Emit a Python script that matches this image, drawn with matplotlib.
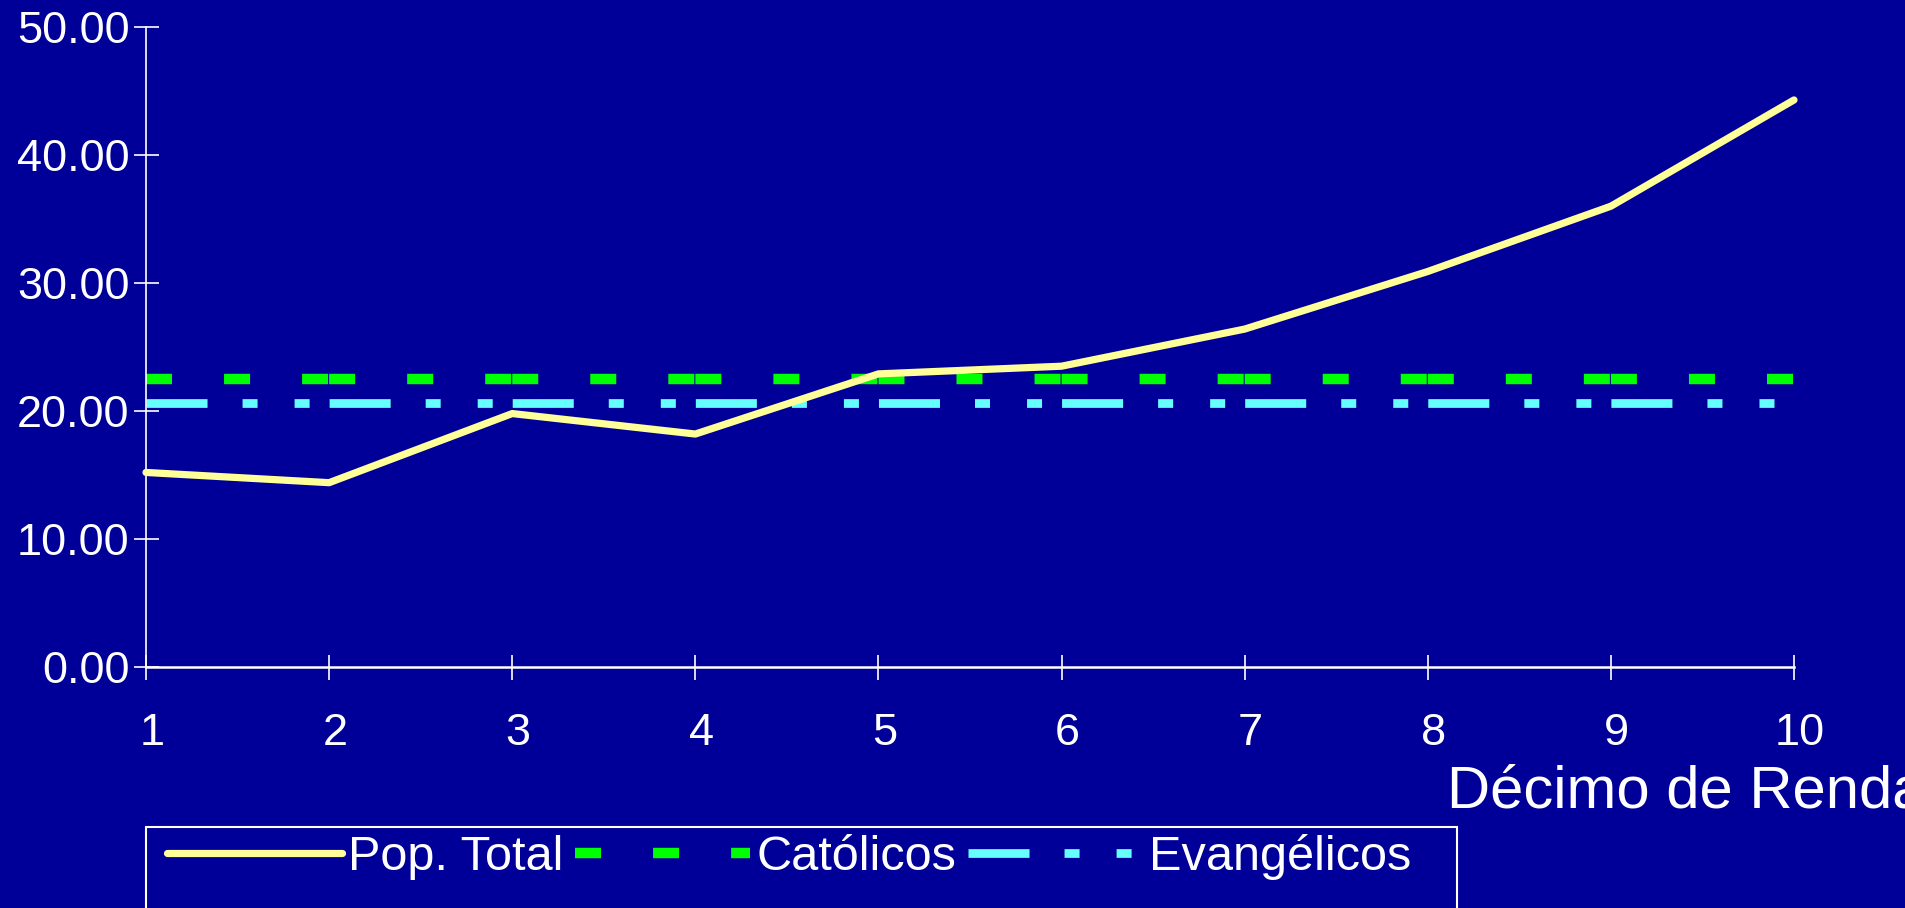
import numpy as np
import matplotlib.pyplot as plt
import matplotlib.transforms as mtransforms

plt.rcParams['font.family'] = ['Liberation Sans', 'DejaVu Sans']
plt.rcParams['lines.scale_dashes'] = False

# data
decis = [1, 2, 3, 4, 5, 6, 7, 8, 9, 10]
pop_total = [15.2, 14.4, 19.8, 18.2, 22.9, 23.5, 26.4, 30.9, 36.0, 44.3]
catolicos = [22.5] * 10
evangelicos = [20.6] * 10
yticks = [0, 10, 20, 30, 40, 50]

bg = '#000099'
W, H = 1906, 908
fig = plt.figure(figsize=(W / 100, H / 100), dpi=100, facecolor=bg)
left, right = 146 / W, 1794 / W
bottom, top = 1 - 667 / H, 1 - 27 / H
ax = fig.add_axes([left, bottom, right - left, top - bottom], facecolor=bg)

# dash pattern repeats once per decile step (px -> pt)
seg_px = (right - left) * W / 9
pt = 72 / 100
def dash(pattern):
    s = seg_px / sum(pattern)
    return [p * s * pt for p in pattern]

ax.plot(decis, pop_total, color='#FFFF99', lw=5.2, solid_capstyle='round',
        solid_joinstyle='round', clip_on=False, label='Pop. Total', zorder=3)
ax.plot(decis, catolicos, color='#00FF00', lw=7.5,
        dashes=dash([26, 52, 26, 52, 26, 1]), clip_on=False, label='Católicos', zorder=2)
ax.plot(decis, evangelicos, color='#66FFFF', lw=6.3,
        dashes=dash([61, 35, 15, 37, 15, 20]), clip_on=False, label='Evangélicos', zorder=2)

ax.set_xlim(1, 10)
ax.set_ylim(0, 50)
ax.set_xticks(decis)
ax.set_yticks(yticks)
ax.set_yticklabels([f'{v:.2f}' for v in yticks])

for s in ['top', 'right']:
    ax.spines[s].set_visible(False)
for s in ['left', 'bottom']:
    ax.spines[s].set_color('white')
ax.spines['left'].set_linewidth(1.2)
ax.spines['bottom'].set_linewidth(1.8)

ax.tick_params(axis='both', direction='inout', length=18, width=1.2,
               colors='white', labelsize=32.5)
ax.tick_params(axis='y', pad=3)
ax.tick_params(axis='x', pad=24)
shift = mtransforms.ScaledTranslation(6 / 100, 0, fig.dpi_scale_trans)
for lab in ax.get_xticklabels():
    lab.set_transform(lab.get_transform() + shift)

fig.text(1447 / W, 1 - 808 / H, 'Décimo de Renda', color='white',
         fontsize=43, ha='left', va='baseline')

# legend box runs past the bottom edge
box = plt.Rectangle((left, -0.05), 1311 / W, 1 - 827 / H + 0.05, transform=fig.transFigure,
                    facecolor='none', edgecolor='white', lw=1.5, clip_on=False)
fig.patches.append(box)

leg = ax.legend(loc='upper left', bbox_to_anchor=(167 / W, 1 - 834 / H),
                bbox_transform=fig.transFigure, ncol=3,
                handlelength=3.6, handletextpad=0.12, columnspacing=0.25,
                borderaxespad=0, borderpad=0, fontsize=35, frameon=False)
for t in leg.get_texts():
    t.set_color('white')

fig.savefig('out.png', dpi=100, facecolor=bg)
